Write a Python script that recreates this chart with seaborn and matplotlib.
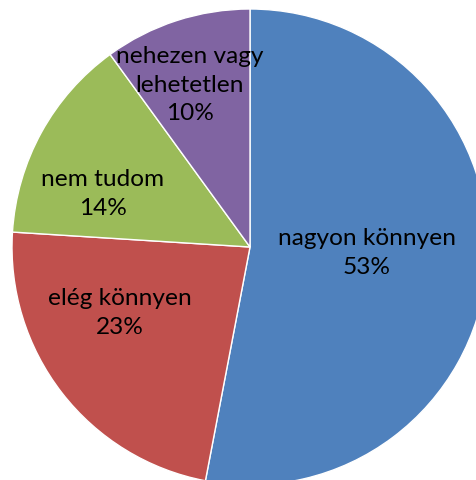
import numpy as np
import matplotlib
matplotlib.use("Agg")
import matplotlib.pyplot as plt
import seaborn as sns

# adatok
categories = ["nagyon könnyen", "elég könnyen", "nem tudom", "nehezen vagy\nlehetetlen"]
values = [53, 23, 14, 10]
colors = ["#4F81BD", "#C0504D", "#9BBB59", "#8064A2"]

# címkék elhelyezése (sugár, szögeltolás fokban)
label_r = [0.49, 0.61, 0.66, 0.73]
label_shift = [3.0, -11.2, 8.6, 2.3]

sns.set_theme(style="white")
plt.rcParams["font.family"] = ["Lato", "DejaVu Sans"]

fig = plt.figure(figsize=(4.77, 4.81), dpi=100)
ax = fig.add_axes([0, 0, 1, 1])

wedges, _ = ax.pie(values, colors=colors, startangle=90, counterclock=False,
                   wedgeprops=dict(edgecolor="white", linewidth=1))

for w, lab, v, r, s in zip(wedges, categories, values, label_r, label_shift):
    mid = np.deg2rad((w.theta1 + w.theta2) / 2 + s)
    ax.text(r * np.cos(mid), r * np.sin(mid), f"{lab}\n{v}%",
            ha="center", va="center", fontsize=17.6, color="black", linespacing=1.45)

R = 238.0
ax.set_xlim(-250 / R, (477 - 250) / R)
ax.set_ylim(-(481 - 248) / R, 248 / R)
ax.set_aspect("equal", adjustable="datalim")
ax.axis("off")

fig.savefig("out.png", dpi=100)
